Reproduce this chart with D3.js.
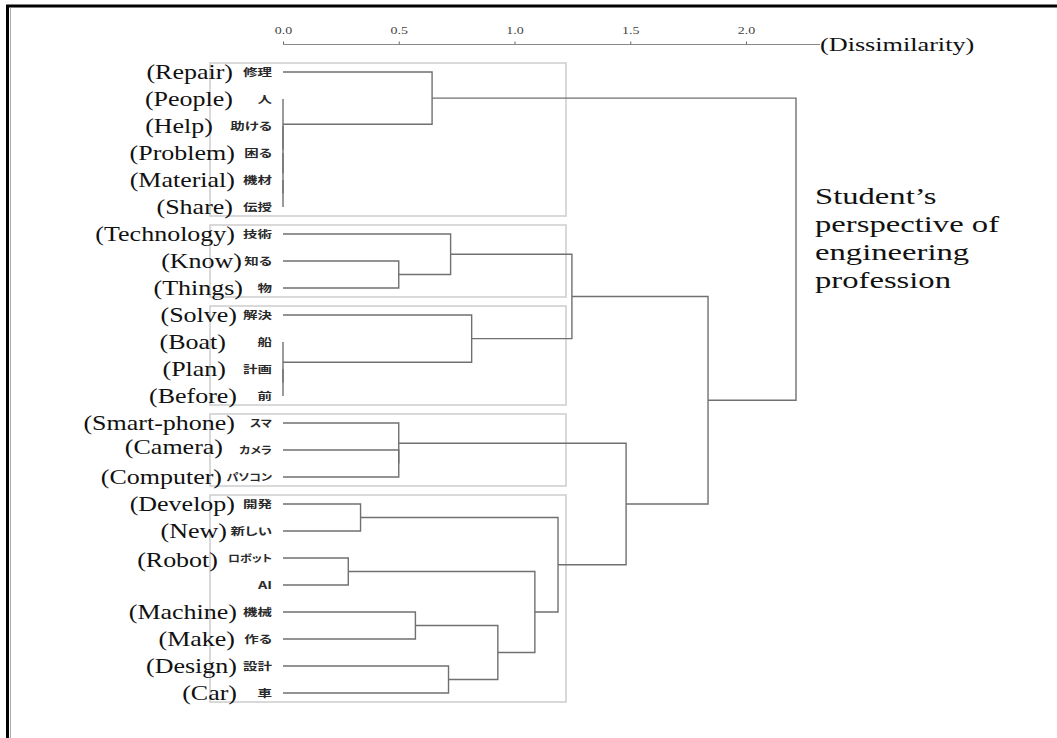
<!DOCTYPE html>
<html><head><meta charset="utf-8">
<script src="https://cdn.jsdelivr.net/npm/d3@7"></script>
<style>
html,body{margin:0;padding:0;background:#fff;}
svg{display:block;}
.ja{font-family:"Noto Sans CJK JP",sans-serif;font-feature-settings:"palt";}
.serif{font-family:"Liberation Serif","Times New Roman",serif;}
</style></head><body>
<svg id="chart" width="1057" height="738"></svg>
<script>
// ---------------- data ----------------
const englishLabels = ["(Repair)","(People)","(Help)","(Problem)","(Material)","(Share)",
  "(Technology)","(Know)","(Things)","(Solve)","(Boat)","(Plan)","(Before)",
  "(Smart-phone)","(Camera)","(Computer)","(Develop)","(New)","(Robot)","",
  "(Machine)","(Make)","(Design)","(Car)"];
const japaneseLabels = ["修理","人","助ける","困る","機材","伝授",
  "技術","知る","物","解決","船","計画","前",
  "スマ","カメラ","パソコン","開発","新しい","ロボット","AI",
  "機械","作る","設計","車"];
// linkage: [child A, child B, dissimilarity]; ids < 24 are leaves, id 24+k is merge k
const merges = [
  [4,5,0],[3,24,0],[2,25,0],[1,26,0],
  [11,12,0],[10,28,0],
  [18,19,0.282],[16,17,0.335],[7,8,0.50],[14,15,0.50],[13,33,0.50],
  [20,21,0.572],[0,27,0.644],[22,23,0.715],[6,32,0.724],[9,29,0.815],
  [35,37,0.928],[30,40,1.088],[31,41,1.188],[38,39,1.248],
  [34,42,1.482],[43,44,1.836],[36,45,2.216]
];
const clusterGroups = [[0,5],[6,8],[9,12],[13,15],[16,23]];
const tickValues = [0,0.5,1.0,1.5,2.0];
const axisTitle = "(Dissimilarity)";
const noteLines = ["Student\u2019s","perspective of","engineering","profession"];

// ---------------- layout ----------------
const STRETCH = 1.3;
const JA_STRETCH = 1.45;
const KANA_STRETCH = 1.2;
const enRight = [233,233,213,235,235,233,235,242,243,237,226,226,237,235,223,222,235,227,218,235,237,235,237,237];
const enShift = [0,0,0,0,0,0,0,0,0,0,0,0,0,0,-3,0,0,0,2,0,0,0,0,0];
const svg = d3.select("#chart");
const n = englishLabels.length;
const x = d3.scaleLinear().domain([0,2]).range([283,746]);
const y = d3.scalePoint().domain(d3.range(n)).range([72,693]);

// frame
svg.append("line").attr("x1",10.5).attr("x2",10.5).attr("y1",8).attr("y2",738)
  .attr("stroke","#aaa").attr("stroke-width",1);
svg.append("path").attr("d","M7.5,738 V6 H1057").attr("fill","none")
  .attr("stroke","#000").attr("stroke-width",3);

// cluster boxes
svg.append("g").selectAll("rect").data(clusterGroups).join("rect")
  .attr("x",210).attr("width",356)
  .attr("y",d=>y(d[0])-9)
  .attr("height",d=>y(d[1])-y(d[0])+18)
  .attr("fill","none").attr("stroke","#cdcdcd").attr("stroke-width",1.5);

// node positions
const pos = d3.range(n).map(i=>({h:0,y:y(i)}));
merges.forEach(([a,b,h])=>{ pos.push({h:h,y:(pos[a].y+pos[b].y)/2}); });

svg.append("g").selectAll("path").data(merges).join("path")
  .attr("d",([a,b,h])=>`M${x(pos[a].h)},${pos[a].y}H${x(h)}V${pos[b].y}H${x(pos[b].h)}`)
  .attr("fill","none").attr("stroke","#707070").attr("stroke-width",1.4);

// axis
const axis = d3.axisTop(x).tickValues(tickValues).tickFormat(d3.format(".1f"))
  .tickSize(3).tickSizeOuter(0).tickPadding(8);
const ga = svg.append("g").attr("transform","translate(0,44.5)").call(axis);
ga.select(".domain").remove();
ga.selectAll(".tick line").attr("stroke","#666");
ga.selectAll(".tick text").attr("class","serif").attr("font-size",10).attr("fill","#444")
  .attr("transform",`scale(1.4,1)`);
svg.append("line").attr("x1",x(0)).attr("x2",820).attr("y1",44.5).attr("y2",44.5)
  .attr("stroke","#888").attr("stroke-width",1.2);
svg.append("text").attr("class","serif").attr("font-size",19).attr("fill","#111")
  .attr("transform",`translate(820,51) scale(1.38,1)`).text(axisTitle);

// leaf labels
const isKana = s => /^[\u30A0-\u30FF]+$/.test(s);
svg.append("g").selectAll("text").data(japaneseLabels).join("text")
  .attr("class","ja").attr("font-size",10).attr("font-weight","bold").attr("fill","#2a2a2a")
  .attr("text-anchor","end").attr("dy","0.36em")
  .attr("transform",(d,i)=>`translate(272,${y(i)}) scale(${isKana(d)?KANA_STRETCH:JA_STRETCH},1)`).text(d=>d);
svg.append("g").selectAll("text").data(englishLabels).join("text")
  .attr("class","serif").attr("font-size",20).attr("fill","#111").attr("text-anchor","end")
  .attr("dy","0.33em")
  .attr("transform",(d,i)=>`translate(${enRight[i]},${y(i)+enShift[i]}) scale(${STRETCH},1)`).text(d=>d);

// note
svg.append("g").selectAll("text").data(noteLines).join("text")
  .attr("class","serif").attr("font-size",23).attr("fill","#111")
  .attr("transform",(d,i)=>`translate(815,${204+28*i}) scale(1.42,1)`).text(d=>d);
</script>
</body></html>
